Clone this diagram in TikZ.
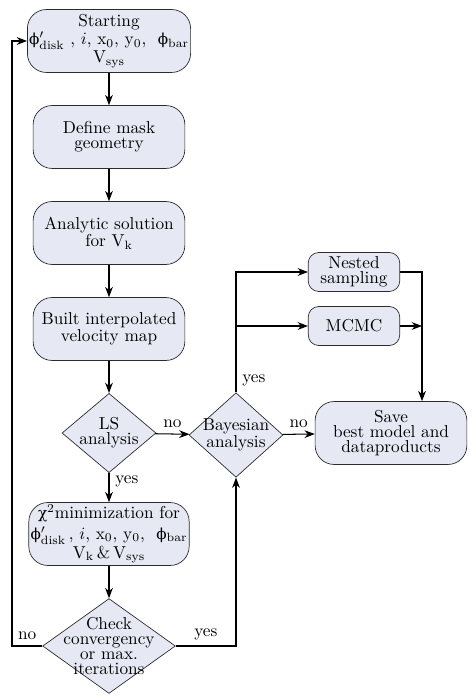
\documentclass[tikz,border=0pt]{standalone}
\usepackage{fontspec}
\newfontfamily\grk{DejaVu Serif}[Scale=0.88]
\usetikzlibrary{arrows.meta,shapes.geometric}
\definecolor{ink}{HTML}{2B2B2B}
\definecolor{wash}{HTML}{E6E8F3}
\newcommand{\tightfont}{\fontsize{10}{8.7}\selectfont}
\newcommand{\phid}{{\grk ϕ}$'_{\rm disk}$}
\tikzset{box/.style={draw=ink,fill=wash,rounded corners=11pt,align=center,minimum width=88pt,minimum height=36.5pt,inner sep=1pt,font=\tightfont}, small/.style={box,rounded corners=6pt,minimum width=53pt,minimum height=22.6pt}, decision/.style={diamond,draw=ink,fill=wash,inner sep=0pt}, arr/.style={-{Stealth[length=6pt,width=4.5pt]},semithick,draw=black}, lbl/.style={font=\tightfont,align=center}}
\begin{document}
\begin{tikzpicture}[x=0.58pt,y=-0.58pt,font=\tightfont]
\useasboundingbox(0,0)rectangle(475,700);
\node[box](start)at(109,41){Starting\\\phid\ , $i$, x$_0$, y$_0$, \ {\grk ϕ}$_{\rm bar}$\\V$_{\rm sys}$};
\node[box](mask)at(109,137){Define mask\\geometry};\node[box](vk)at(109,233){Analytic solution\\for V$_{\rm k}$};
\node[box](vmap)at(109,329){Built interpolated\\velocity map};
\node[decision,minimum width=54.5pt,minimum height=46pt,label={[lbl]center:LS\\analysis}](ls)at(109,433){};
\node[box](chi)at(109,534){{\grk χ}$^2$minimization for\\[1.5pt]\phid\,, $i$, x$_0$, y$_0$, \ {\grk ϕ}$_{\rm bar}$\\V$_{\rm k}$\,\&\,V$_{\rm sys}$};
\node[decision,minimum width=77pt,minimum height=55pt,label={[lbl]center:Check\\convergency\\or max.\\iterations}](check)at(109,646){};
\node[decision,minimum width=54.5pt,minimum height=49pt,label={[lbl]center:Bayesian\\analysis}](bayes)at(236,435){};
\node[small](nested)at(354,272){Nested\\sampling};\node[small](mcmc)at(354,326){MCMC};
\node[box](save)at(391,433){Save\\best model and\\dataproducts};
\coordinate(loop)at(12,646);\coordinate(split)at(bayes.north|-mcmc.west);\coordinate(join)at(422,326);
% main column
\draw[arr](start)--(mask);\draw[arr](mask)--(vk);\draw[arr](vk)--(vmap);\draw[arr](vmap)--(ls);
\draw[arr](ls)--node[pos=.3,right]{yes}(chi);\draw[arr](chi)--(check);
\draw[arr](check.west)--node[above]{no}(loop)|-(start.west);
\draw[arr](check.east)-|node[pos=.25,above]{yes}(bayes.south);
% bayesian branch
\draw[arr](ls)--node[above]{no}(bayes);
\draw[arr](bayes.north)|-node[pos=.05,right]{yes}(nested.west);\draw[arr](split)--(mcmc.west);
\draw[semithick](nested.east)-|(join);\draw[arr](mcmc.east)--(join);\draw[arr](join)--(join|-save.north);
\draw[arr](bayes)--node[above]{no}(save);
\end{tikzpicture}
\end{document}
